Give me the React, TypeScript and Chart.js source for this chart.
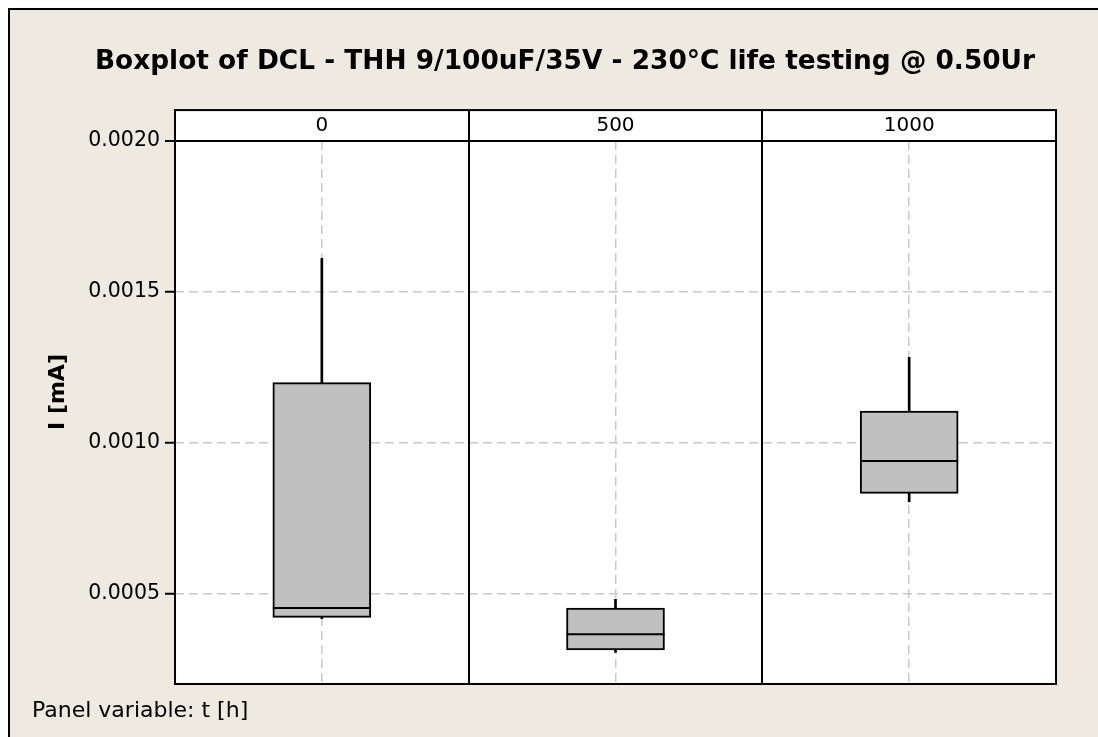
import React, { useEffect, useRef } from 'react';
import { Chart, registerables } from 'chart.js';

Chart.register(...registerables);

// ---- data ----
const categories = ['0', '500', '1000'];
const whiskerLow = [0.000417, 0.000305, 0.000804];
const q1 = [0.000421, 0.000313, 0.000832];
const median = [0.000452, 0.000365, 0.000939];
const q3 = [0.001199, 0.000452, 0.001105];
const whiskerHigh = [0.001611, 0.000481, 0.001283];
const yTicks = [0.0005, 0.001, 0.0015, 0.002];
const yMin = 0.0002;
const yMax = 0.002;

const titleText = 'Boxplot of DCL - THH 9/100uF/35V - 230°C life testing @ 0.50Ur';
const yTitleText = 'I [mA]';
const footnoteText = 'Panel variable: t [h]';

const FONT = 'DejaVu Sans';
const BG = '#EEEAE0';

const panelPlugin = {
  id: 'panelFrame',
  beforeDraw(chart: any) {
    const { ctx, chartArea: a, scales } = chart;
    const top = scales.x.top;
    ctx.save();
    ctx.fillStyle = '#ffffff';
    ctx.fillRect(a.left, top, a.right - a.left, a.bottom - top);
    ctx.restore();
  },
  afterDraw(chart: any) {
    const { ctx, chartArea: a, scales } = chart;
    const xs = scales.x;
    const top = xs.top;
    ctx.save();
    ctx.strokeStyle = '#000';
    ctx.lineWidth = 2;
    ctx.strokeRect(a.left, top, a.right - a.left, a.bottom - top);
    ctx.beginPath();
    ctx.moveTo(a.left, a.top);
    ctx.lineTo(a.right, a.top);
    for (let i = 1; i < categories.length; i++) {
      const px = Math.round((xs.getPixelForValue(i - 1) + xs.getPixelForValue(i)) / 2);
      ctx.moveTo(px, top);
      ctx.lineTo(px, a.bottom);
    }
    ctx.stroke();
    ctx.translate(48, 382);
    ctx.rotate(-Math.PI / 2);
    ctx.font = `bold 22px "${FONT}"`;
    ctx.fillStyle = '#000';
    ctx.textAlign = 'center';
    ctx.textBaseline = 'middle';
    ctx.fillText(yTitleText, 0, 0);
    ctx.restore();
  },
};

const noSidePadding = (s: any) => {
  s.paddingLeft = 0;
  s.paddingRight = 0;
};

export default function App() {
  const ref = useRef<HTMLCanvasElement>(null);

  useEffect(() => {
    if (!ref.current) return;
    const chart = new Chart(ref.current, {
      type: 'bar',
      data: {
        labels: categories,
        datasets: [
          {
            type: 'line',
            label: 'Median',
            data: median,
            xAxisID: 'x',
            yAxisID: 'y',
            showLine: false,
            pointStyle: 'line',
            pointRadius: 49,
            pointHoverRadius: 49,
            pointBorderColor: '#000',
            pointBorderWidth: 2,
            borderColor: '#000',
            order: 0,
          } as any,
          {
            type: 'bar',
            label: 'IQR',
            data: categories.map((_, i) => [q1[i], q3[i]]),
            xAxisID: 'x',
            yAxisID: 'y',
            backgroundColor: '#C0C0C0',
            borderColor: '#000',
            borderWidth: 2,
            borderSkipped: false,
            barThickness: 98,
            grouped: false,
            order: 1,
          } as any,
          {
            type: 'bar',
            label: 'Whisker',
            data: categories.map((_, i) => [whiskerLow[i], whiskerHigh[i]]),
            xAxisID: 'x',
            yAxisID: 'y',
            backgroundColor: '#000',
            borderWidth: 0,
            barThickness: 2,
            grouped: false,
            order: 2,
          } as any,
        ],
      },
      options: {
        responsive: false,
        animation: false,
        events: [],
        layout: { autoPadding: false, padding: { left: 22, right: 0, top: 0, bottom: 0 } },
        plugins: {
          legend: { display: false },
          tooltip: { enabled: false },
          title: {
            display: true,
            text: titleText,
            color: '#000',
            font: { family: FONT, size: 26.4, weight: 'bold' },
            padding: { top: 36.2, bottom: 32.2 },
          },
          subtitle: {
            display: true,
            text: footnoteText,
            position: 'bottom',
            align: 'start',
            color: '#000',
            font: { family: FONT, size: 22, weight: 'normal' },
            padding: { top: 13.8, bottom: 12.8 },
          },
        },
        scales: {
          x: {
            type: 'category',
            position: 'top',
            offset: true,
            afterFit: noSidePadding,
            grid: { display: false, drawTicks: false },
            border: { display: false },
            ticks: {
              color: '#000',
              font: { family: FONT, size: 20 },
              padding: 3.5,
              maxRotation: 0,
              autoSkip: false,
            },
          },
          xc: {
            type: 'category',
            position: 'bottom',
            offset: true,
            afterFit: noSidePadding,
            grid: {
              display: true,
              offset: false,
              drawTicks: false,
              color: '#C8C8C8',
              lineWidth: 1.5,
            },
            border: { display: false, dash: [9, 5] },
            ticks: { display: false },
          },
          y: {
            type: 'linear',
            position: 'left',
            min: yMin,
            max: yMax,
            afterBuildTicks: (s: any) => {
              s.ticks = yTicks.map((v) => ({ value: v }));
            },
            afterFit: (s: any) => {
              s.width = 143;
            },
            grid: {
              drawTicks: true,
              tickLength: 10,
              tickColor: '#000',
              tickWidth: 2,
              color: (c: any) => (c.tick && c.tick.value >= yMax ? '#000' : '#C8C8C8'),
              lineWidth: (c: any) => (c.tick && c.tick.value >= yMax ? 2 : 1.5),
            },
            border: {
              display: false,
              dash: (c: any) => (c.tick && c.tick.value >= yMax ? [] : [9, 5]),
            },
            ticks: {
              color: '#000',
              font: { family: FONT, size: 20.5 },
              padding: 5,
              callback: (v: any) => Number(v).toFixed(4),
            },
          },
          yR: {
            type: 'linear',
            position: 'right',
            grid: { display: false, drawTicks: false },
            border: { display: false },
            ticks: { display: false },
            afterFit: (s: any) => {
              s.width = 42;
            },
          },
        },
      } as any,
      plugins: [panelPlugin],
    });
    return () => chart.destroy();
  }, []);

  return (
    <div
      style={{
        position: 'fixed',
        left: 8,
        top: 8,
        width: 1088,
        height: 727,
        background: BG,
        borderTop: '2px solid #000',
        borderLeft: '2px solid #000',
      }}
    >
      <canvas ref={ref} width={1088} height={727} style={{ display: 'block' }} />
    </div>
  );
}
